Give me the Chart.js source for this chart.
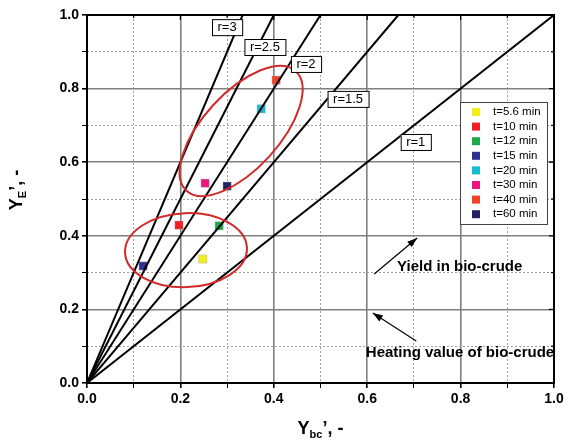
<!DOCTYPE html>
<html>
<head>
<meta charset="utf-8">
<script src="https://cdn.jsdelivr.net/npm/chart.js@4/dist/chart.umd.min.js"></script>
<style>
  html, body { margin: 0; padding: 0; background: #fff; }
</style>
</head>
<body>
<canvas id="chart" width="570" height="442"></canvas>
<script>
// series: one point per reaction time
const timeLabels = ['t=5.6 min', 't=10 min', 't=12 min', 't=15 min', 't=20 min', 't=30 min', 't=40 min', 't=60 min'];
const timeColors = ['#f2ee1c', '#ee2026', '#1fa84a', '#2e3192', '#14bcd0', '#ec1480', '#ef4123', '#262262'];
const ybcValues = [0.248, 0.197, 0.283, 0.120, 0.373, 0.253, 0.405, 0.300];
const yeValues  = [0.337, 0.429, 0.427, 0.318, 0.745, 0.543, 0.823, 0.535];

// ratio lines Y_E = r * Y_bc
const ratios = [3, 2.5, 2, 1.5, 1];
const ratioTextX = [0.300, 0.381, 0.469, 0.559, 0.704];
const ratioTextY = [0.967, 0.913, 0.867, 0.772, 0.655];

const FONT = '"Liberation Sans", Arial, sans-serif';

const isMinor = v => Math.round(v * 10) % 2 !== 0;

const datasets = [];
ratios.forEach(r => {
  const xEnd = Math.min(1, 1 / r);
  datasets.push({
    type: 'line',
    label: 'r=' + r,
    data: [{ x: 0, y: 0 }, { x: xEnd, y: xEnd * r }],
    borderColor: '#000',
    borderWidth: 2,
    pointRadius: 0,
    showLine: true,
    fill: false
  });
});
timeLabels.forEach((lab, i) => {
  datasets.push({
    type: 'scatter',
    label: lab,
    data: [{ x: ybcValues[i], y: yeValues[i] }],
    pointStyle: 'rect',
    pointRadius: 5.8,
    backgroundColor: timeColors[i],
    borderColor: 'rgba(170,170,170,0.4)',
    borderWidth: 1
  });
});

// red ellipses around the groups (center in data units, radii in px)
const groups = [
  { cx: 0.212, cy: 0.361, rx: 61, ry: 37, rot: -0.04 },
  { cx: 0.330, cy: 0.685, rx: 81, ry: 38, rot: -0.83 }
];

function arrow(ctx, x1, y1, x2, y2) {
  ctx.beginPath();
  ctx.moveTo(x1, y1);
  ctx.lineTo(x2, y2);
  ctx.stroke();
  const a = Math.atan2(y2 - y1, x2 - x1);
  ctx.beginPath();
  ctx.moveTo(x2, y2);
  ctx.lineTo(x2 - 10 * Math.cos(a) + 3.5 * Math.sin(a), y2 - 10 * Math.sin(a) - 3.5 * Math.cos(a));
  ctx.lineTo(x2 - 10 * Math.cos(a) - 3.5 * Math.sin(a), y2 - 10 * Math.sin(a) + 3.5 * Math.cos(a));
  ctx.closePath();
  ctx.fill();
}

function axisTitle(ctx, x, y, rotate, main, sub, rest) {
  ctx.save();
  ctx.translate(x, y);
  if (rotate) ctx.rotate(-Math.PI / 2);
  const big = 'bold 18px ' + FONT, small = 'bold 11px ' + FONT;
  ctx.font = big; const w1 = ctx.measureText(main).width, w3 = ctx.measureText(rest).width;
  ctx.font = small; const w2 = ctx.measureText(sub).width;
  let px = -(w1 + w2 + w3) / 2;
  ctx.fillStyle = '#000';
  ctx.textBaseline = 'alphabetic';
  ctx.textAlign = 'left';
  ctx.font = big; ctx.fillText(main, px, 6); px += w1;
  ctx.font = small; ctx.fillText(sub, px, 10); px += w2;
  ctx.font = big; ctx.fillText(rest, px, 6);
  ctx.restore();
}

const extras = {
  id: 'extras',
  afterDatasetsDraw(chart) {
    const { ctx, chartArea: ca, scales: { x, y } } = chart;
    ctx.save();

    // ellipses
    ctx.strokeStyle = '#d02a2a';
    ctx.lineWidth = 2;
    groups.forEach(g => {
      ctx.beginPath();
      ctx.ellipse(x.getPixelForValue(g.cx), y.getPixelForValue(g.cy), g.rx, g.ry, g.rot, 0, Math.PI * 2);
      ctx.stroke();
    });

    // ratio labels
    ctx.font = '13px ' + FONT;
    ctx.textAlign = 'center';
    ctx.textBaseline = 'middle';
    ratios.forEach((r, i) => {
      const t = 'r=' + r;
      const px = x.getPixelForValue(ratioTextX[i]), py = y.getPixelForValue(ratioTextY[i]);
      const w = ctx.measureText(t).width + 11;
      ctx.fillStyle = '#fff';
      ctx.fillRect(px - w / 2, py - 8, w, 16);
      ctx.strokeStyle = '#000';
      ctx.lineWidth = 1;
      ctx.strokeRect(px - w / 2 + 0.5, py - 8 + 0.5, w, 16);
      ctx.fillStyle = '#000';
      ctx.fillText(t, px, py + 0.5);
    });

    // annotations
    ctx.fillStyle = '#000';
    ctx.strokeStyle = '#000';
    ctx.lineWidth = 1.2;
    arrow(ctx, x.getPixelForValue(0.615), y.getPixelForValue(0.296), x.getPixelForValue(0.707), y.getPixelForValue(0.394));
    arrow(ctx, x.getPixelForValue(0.705), y.getPixelForValue(0.114), x.getPixelForValue(0.612), y.getPixelForValue(0.190));
    ctx.font = 'bold 15px ' + FONT;
    ctx.textAlign = 'left';
    ctx.fillText('Yield in bio-crude', x.getPixelForValue(0.664), y.getPixelForValue(0.315));
    ctx.fillText('Heating value of bio-crude', x.getPixelForValue(0.597), y.getPixelForValue(0.082));

    // legend box
    const lx = 460, ly = 102, lw = 87, lh = 122;
    ctx.fillStyle = '#fff';
    ctx.fillRect(lx, ly, lw, lh);
    ctx.strokeStyle = '#444';
    ctx.lineWidth = 1;
    ctx.strokeRect(lx + 0.5, ly + 0.5, lw, lh);
    ctx.font = '11.5px ' + FONT;
    ctx.textBaseline = 'middle';
    timeLabels.forEach((lab, i) => {
      const ry = ly + 10 + i * 14.6;
      ctx.fillStyle = timeColors[i];
      ctx.fillRect(lx + 12, ry - 4, 8, 8);
      ctx.fillStyle = '#000';
      ctx.fillText(lab, lx + 33, ry);
    });

    // frame with inward ticks on top and right
    ctx.strokeStyle = '#000';
    ctx.lineWidth = 2;
    ctx.strokeRect(ca.left, ca.top, ca.right - ca.left, ca.bottom - ca.top);
    ctx.lineWidth = 1.2;
    x.ticks.forEach(t => {
      const px = x.getPixelForValue(t.value), len = isMinor(t.value) ? 3 : 5;
      ctx.beginPath(); ctx.moveTo(px, ca.top); ctx.lineTo(px, ca.top + len); ctx.stroke();
    });
    y.ticks.forEach(t => {
      const py = y.getPixelForValue(t.value), len = isMinor(t.value) ? 3 : 5;
      ctx.beginPath(); ctx.moveTo(ca.right, py); ctx.lineTo(ca.right - len, py); ctx.stroke();
    });

    // axis titles
    axisTitle(ctx, (ca.left + ca.right) / 2, 428, false, 'Y', 'bc', '\u2019, -');
    axisTitle(ctx, 16, 190, true, 'Y', 'E', '\u2019, -');

    ctx.restore();
  }
};

function scaleOpts(fit) {
  return {
    type: 'linear',
    min: 0,
    max: 1,
    ticks: {
      stepSize: 0.1,
      autoSkip: false,
      maxRotation: 0,
      padding: 3,
      color: '#000',
      font: { family: FONT, size: 14, weight: 'bold' },
      callback: v => isMinor(v) ? '' : v.toFixed(1)
    },
    grid: {
      drawTicks: true,
      tickLength: 5,
      color: c => (c.tick && isMinor(c.tick.value)) ? '#a0a0a0' : '#808080',
      lineWidth: c => (c.tick && isMinor(c.tick.value)) ? 1 : 1.6,
      tickColor: '#000'
    },
    border: {
      display: false,
      dash: c => (c.tick && isMinor(c.tick.value)) ? [2, 2] : []
    },
    afterFit: fit
  };
}

new Chart(document.getElementById('chart'), {
  type: 'scatter',
  data: { datasets: datasets },
  options: {
    responsive: false,
    animation: false,
    devicePixelRatio: 1,
    layout: { padding: { top: 15, right: 16, left: 0, bottom: 0 } },
    plugins: { legend: { display: false }, tooltip: { enabled: false } },
    scales: {
      x: scaleOpts(s => { s.height = 59; }),
      y: scaleOpts(s => { s.width = 87; })
    }
  },
  plugins: [extras]
});
</script>
</body>
</html>
